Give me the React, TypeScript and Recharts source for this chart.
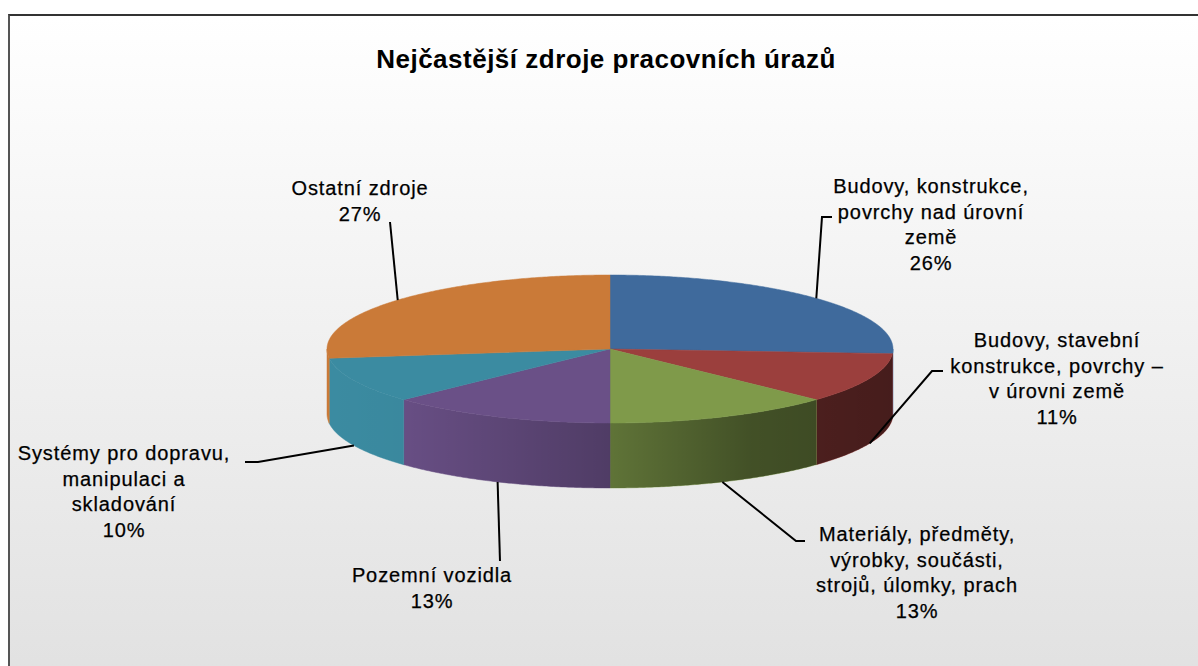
import React from 'react';
import { PieChart, Pie } from 'recharts';

// ---- data ----
const categories = [
  'Budovy, konstrukce,\npovrchy nad úrovní\nzemě',
  'Budovy, stavební\nkonstrukce, povrchy –\nv úrovni země',
  'Materiály, předměty,\nvýrobky, součásti,\nstrojů, úlomky, prach',
  'Pozemní vozidla',
  'Systémy pro dopravu,\nmanipulaci a\nskladování',
  'Ostatní zdroje',
];
const values = [26, 11, 13, 13, 10, 27];
const title = 'Nejčastější zdroje pracovních úrazů';

// ---- style / layout ----
const colors = ['#3F6A9C', '#9B3F3D', '#7F9A4A', '#6A5087', '#3B8BA1', '#CA7A38'];
const labelCenters: number[][] = [
  [931, 186],
  [1057, 340],
  [917, 534],
  [432, 575],
  [124, 453],
  [360, 188],
];
const leaderAnchors: number[][][] = [
  [[832, 217], [822, 217]],
  [[943, 371], [932, 371]],
  [[805, 541], [796, 541]],
  [[500, 561]],
  [[245, 462], [258, 462]],
  [[390, 222]],
];
const PIE_CX = 610;
const PIE_CY = 349;
const PIE_R = 283;
const TILT = 74 / 283;
const DEPTH = 65;
const RAD = Math.PI / 180;
const FONT = '"Liberation Sans", Arial, sans-serif';
const LINE_H = 25.7;

const data = categories.map((c, i) => ({ name: c, value: values[i], fill: colors[i] }));

function rimPts(cx: number, cy: number, r: number, from: number, to: number, dy: number) {
  const ry = r * TILT;
  const n = Math.max(2, Math.ceil(Math.abs(to - from) * 2));
  const pts: string[] = [];
  for (let i = 0; i <= n; i++) {
    const a = (from + ((to - from) * i) / n) * RAD;
    pts.push(`${(cx + r * Math.cos(a)).toFixed(2)},${(cy - ry * Math.sin(a) + dy).toFixed(2)}`);
  }
  return pts;
}

function Slice3D(props: any) {
  const { cx, cy, outerRadius, startAngle, endAngle, fill } = props;
  const lo = Math.min(startAngle, endAngle);
  const hi = Math.max(startAngle, endAngle);
  const top = `M${cx},${cy} L${rimPts(cx, cy, outerRadius, hi, lo, 0).join(' L')} Z`;
  const sides: string[] = [];
  for (const k of [-360, 0, 360]) {
    const s = Math.max(lo, -180 + k);
    const e = Math.min(hi, 0 + k);
    if (e > s) {
      const upper = rimPts(cx, cy, outerRadius, s, e, 0);
      const lower = rimPts(cx, cy, outerRadius, e, s, DEPTH);
      sides.push(`M${upper.join(' L')} L${lower.join(' L')} Z`);
    }
  }
  const gid = `shade-${Math.round(hi * 100)}`;
  const left = cx - outerRadius;
  const w = outerRadius * 2;
  return (
    <g>
      <defs>
        <linearGradient id={gid} gradientUnits="userSpaceOnUse" x1={left} y1={0} x2={left + w} y2={0}>
          <stop offset="0" stopColor="#000" stopOpacity={0} />
          <stop offset="0.13" stopColor="#000" stopOpacity={0.02} />
          <stop offset="0.5" stopColor="#000" stopOpacity={0.25} />
          <stop offset="0.75" stopColor="#000" stopOpacity={0.48} />
          <stop offset="1" stopColor="#000" stopOpacity={0.55} />
        </linearGradient>
      </defs>
      {sides.map((d, i) => (
        <g key={i}>
          <path d={d} fill={fill} stroke={fill} strokeWidth={0.5} />
          <path d={d} fill={`url(#${gid})`} stroke="none" />
        </g>
      ))}
      <path d={top} fill={fill} stroke={fill} strokeWidth={0.5} />
    </g>
  );
}

function renderLabel(p: any) {
  const { cx, cy, outerRadius, midAngle, index } = p;
  const a = midAngle * RAD;
  const front = Math.sin(a) < 0;
  const ex = cx + outerRadius * Math.cos(a);
  const ey = cy - outerRadius * TILT * Math.sin(a) + (front ? DEPTH : 0);
  const pts = [...leaderAnchors[index], [ex, ey]].map((q) => q.join(',')).join(' ');
  const lines = [...categories[index].split('\n'), `${values[index]}%`];
  const [tx, ty] = labelCenters[index];
  return (
    <g key={`lbl-${index}`}>
      <polyline points={pts} fill="none" stroke="#000" strokeWidth={2} />
      {lines.map((t, i) => (
        <text
          key={i}
          x={tx}
          y={ty + i * LINE_H + 7}
          textAnchor="middle"
          fontFamily={FONT}
          fontSize={20}
          letterSpacing={0.9}
          fill="#000"
          stroke="#000"
          strokeWidth={0.25}
        >
          {t}
        </text>
      ))}
    </g>
  );
}

export default function App() {
  return (
    <div style={{ position: 'absolute', left: 0, top: 0, width: 1198, height: 666, overflow: 'hidden' }}>
      <div
        style={{
          position: 'absolute',
          left: 8,
          top: 14,
          width: 1220,
          height: 690,
          borderTop: '2px solid #333333',
          borderLeft: '2px solid #555555',
          background: 'linear-gradient(to bottom, #ffffff 0%, #e0e0e0 100%)',
        }}
      />
      <div
        style={{
          position: 'absolute',
          left: 0,
          top: 44,
          width: 1212,
          textAlign: 'center',
          fontFamily: FONT,
          fontWeight: 'bold',
          fontSize: 26,
          letterSpacing: 0.5,
          lineHeight: '30px',
          color: '#000',
        }}
      >
        {title}
      </div>
      <div style={{ position: 'absolute', left: 0, top: 0 }}>
        <PieChart width={1198} height={666} margin={{ top: 0, right: 0, bottom: 0, left: 0 }}>
          <Pie
            data={data}
            dataKey="value"
            nameKey="name"
            cx={PIE_CX}
            cy={PIE_CY}
            outerRadius={PIE_R}
            startAngle={90}
            endAngle={-270}
            stroke="none"
            isAnimationActive={false}
            shape={Slice3D}
            activeShape={Slice3D}
            inactiveShape={Slice3D}
            label={renderLabel}
            labelLine={false}
          />
        </PieChart>
      </div>
    </div>
  );
}
